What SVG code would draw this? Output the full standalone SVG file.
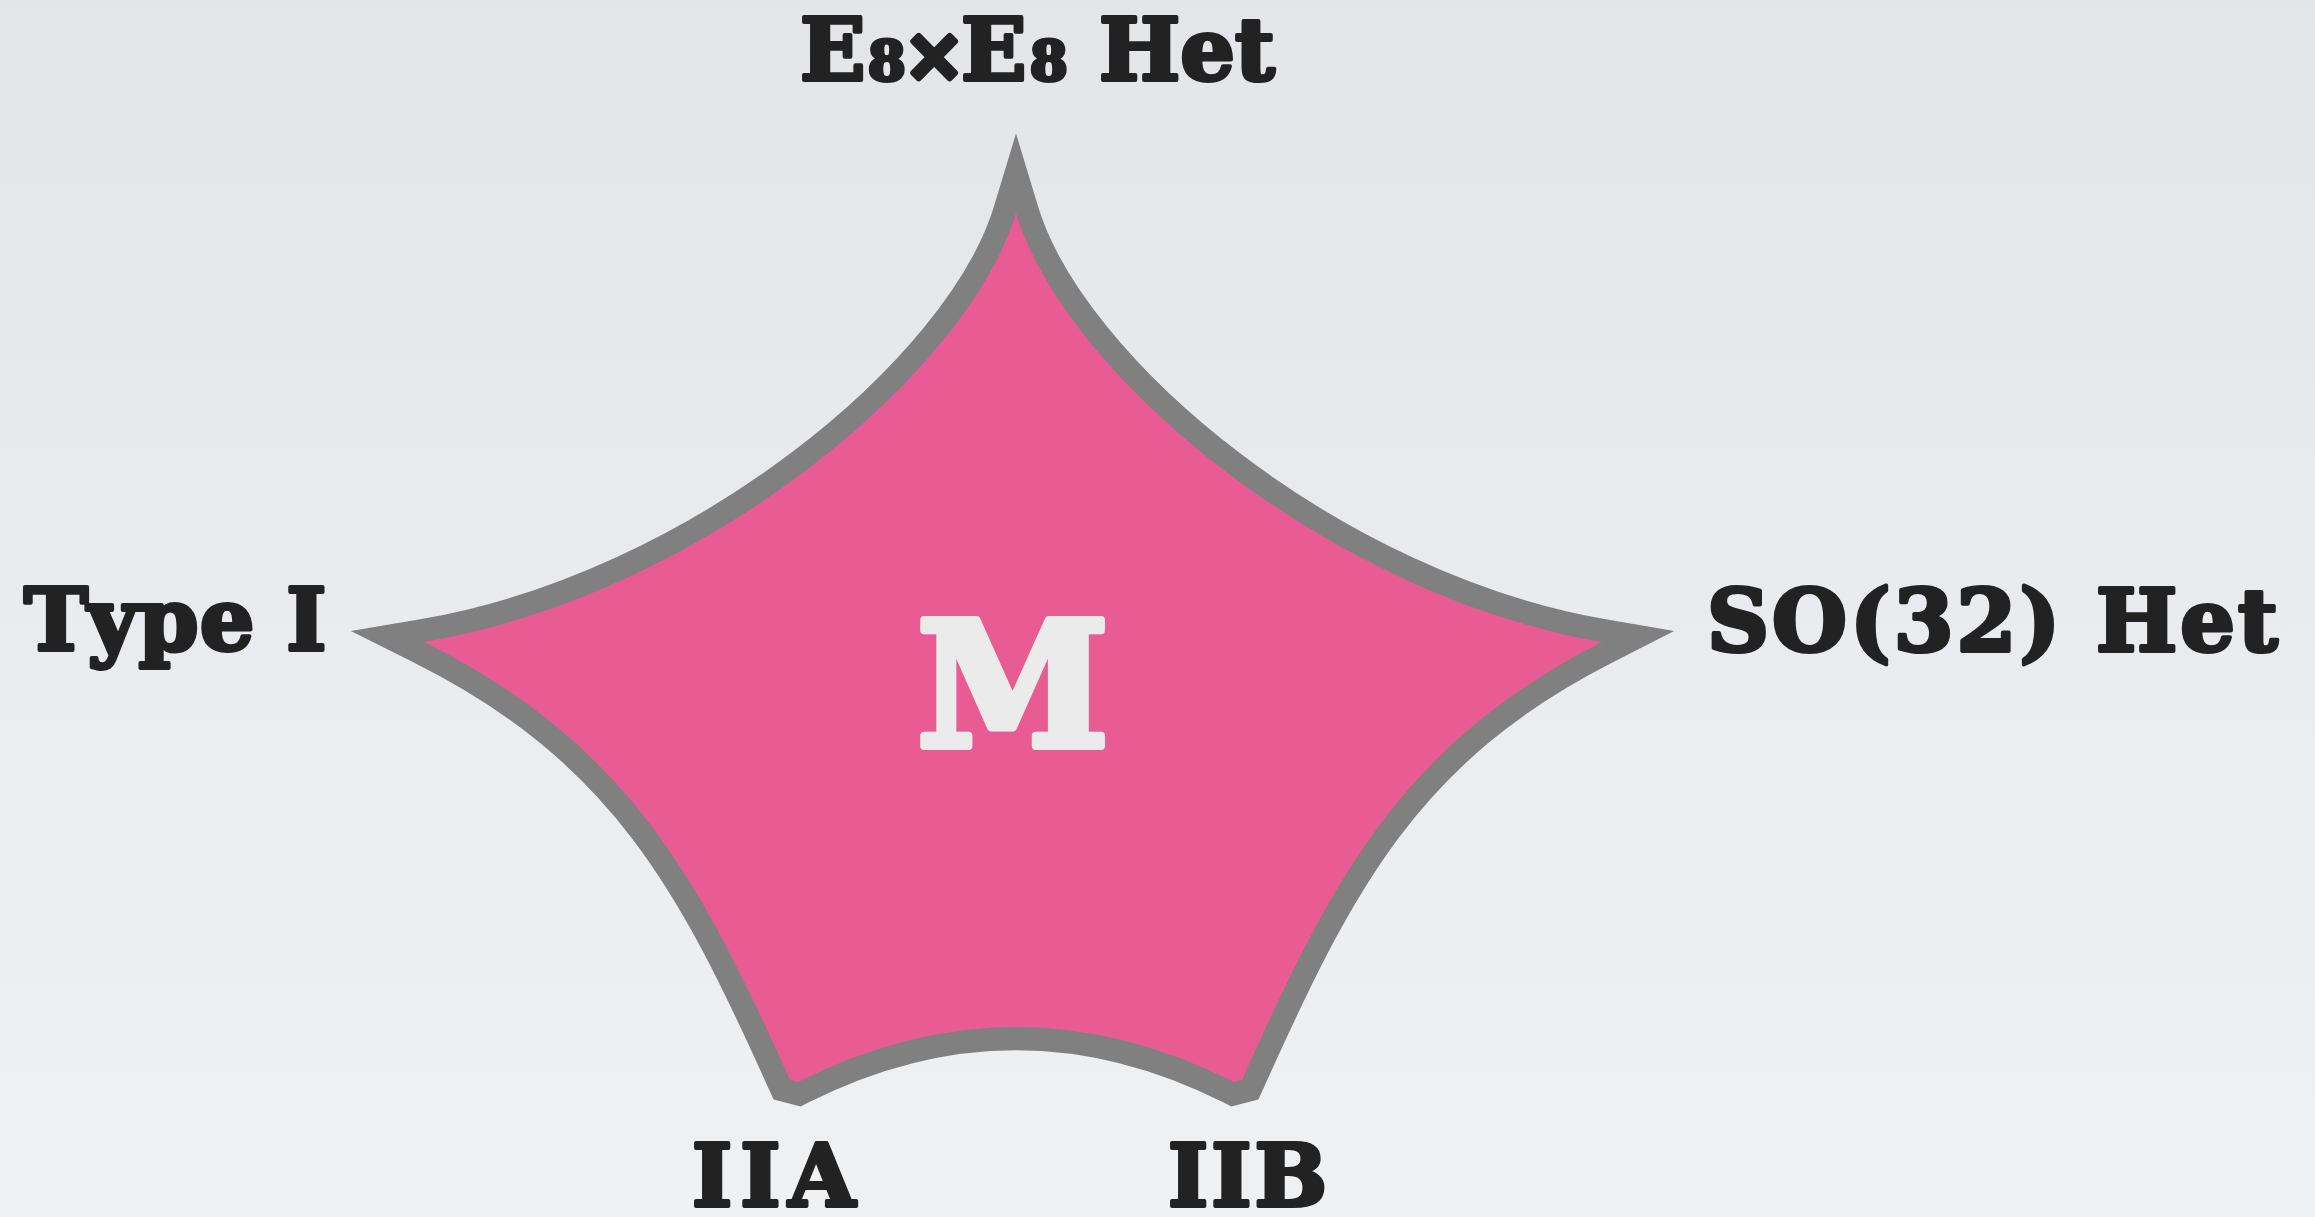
<svg xmlns="http://www.w3.org/2000/svg" width="2315" height="1217" viewBox="0 0 2315 1217">
  <defs>
    <linearGradient id="bg" x1="0" y1="0" x2="0" y2="1">
      <stop offset="0" stop-color="#e4e5e9"/>
      <stop offset="1" stop-color="#f0f1f3"/>
    </linearGradient>
  </defs>
  <style>
    .label { font-family: "DejaVu Serif", "Liberation Serif", serif; font-weight: bold; font-size: 86px; fill: #222222; stroke: #222222; stroke-width: 4; stroke-linejoin: round; }
    .sub { font-size: 54px; }
    .times { font-size: 72px; stroke-width: 6; }
    .core { fill: #e95b93; stroke: #808080; stroke-width: 46; stroke-linejoin: miter; stroke-miterlimit: 6; paint-order: stroke; }
    .big { font-family: "DejaVu Serif", "Liberation Serif", serif; font-weight: bold; font-size: 172px; fill: #ebebeb; stroke: #ebebeb; stroke-width: 8; stroke-linejoin: round; }
  </style>

  <rect width="2315" height="1217" fill="url(#bg)"/>

  <!-- central five-pointed curved star -->
  <g id="m-theory">
    <path class="core" d="M 1016 213
      C 1065.3 376.2, 1330 595.2, 1602 642
      C 1400 744.8, 1332 880, 1242 1080
      L 1234 1082
      Q 1016 972, 798 1082
      L 790 1080
      C 700 880, 629.6 744.8, 424 642
      C 700 595.2, 966.7 376.2, 1016 213 Z"/>
    <text class="big" x="1013" y="746" text-anchor="middle" textLength="192" lengthAdjust="spacingAndGlyphs">M</text>
  </g>

  <!-- vertex labels -->
  <g id="e8-het">
    <text class="label" y="80"><tspan x="800">E</tspan><tspan class="sub" x="868">8</tspan><tspan class="times" x="904">×</tspan><tspan x="961">E</tspan><tspan class="sub" x="1030">8</tspan><tspan x="1099">Het</tspan></text>
  </g>
  <g id="type-i">
    <text class="label" x="24" y="650" letter-spacing="1"><tspan>T</tspan><tspan dx="8">ype I</tspan></text>
  </g>
  <g id="so32-het">
    <text class="label" x="1707" y="651" letter-spacing="3">SO(32) Het</text>
  </g>
  <g id="iia">
    <text class="label" x="692" y="1206" letter-spacing="8">IIA</text>
  </g>
  <g id="iib">
    <text class="label" x="1168" y="1206" letter-spacing="3">IIB</text>
  </g>
</svg>
